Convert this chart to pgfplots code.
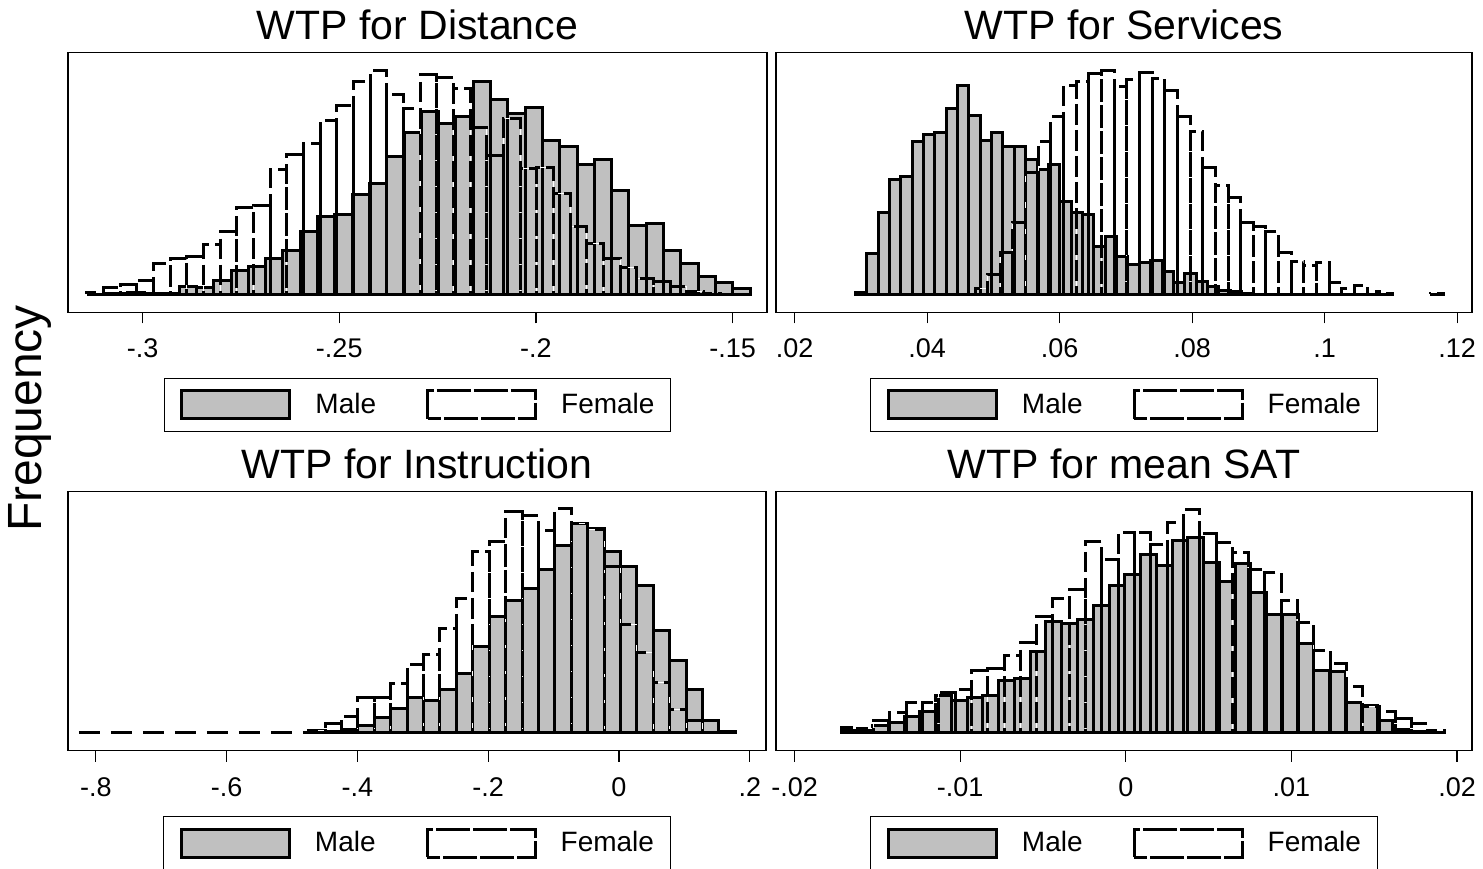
\documentclass[border=0pt]{standalone}
\usepackage{fontspec}
\setmainfont{Liberation Sans}
\usepackage{pgfplots}
\pgfplotsset{compat=1.18}
\definecolor{barfill}{RGB}{192,192,192}

\pgfplotsset{
  swatch/.style={legend image code/.code={\draw[##1] (0pt,-7pt) rectangle (54pt,7pt);}},
  fswatch/.style={legend image code/.code={\draw[##1, dash pattern=on 17pt off 1.5pt] (0pt,-7pt) rectangle (54pt,7pt);}},
  malebar/.style={ybar interval, fill=barfill, draw=black, line width=1.5pt, swatch},
  femaleline/.style={draw=black, line width=1.5pt, dash pattern=on 10pt off 3pt},
  femalebar/.style={ybar interval, fill=none, femaleline,
    preaction={draw=white, line width=0.5pt, solid}, fswatch},
  wtp/.style={
    scale only axis, anchor=south west,
    ymin=-18, ymax=241,
    ytick=\empty,
    xtick pos=left, tick align=outside,
    scaled x ticks=false,
    major tick length=5.5pt,
    tick style={black, line width=0.6pt},
    axis line style={line width=0.6pt},
    xticklabel style={font=\fontsize{13.5}{16}\selectfont, anchor=base, yshift=-17.2pt},
    title style={font=\fontsize{20.5}{24}\selectfont, at={(0.5,1)}, anchor=south,
      inner sep=0pt, yshift=0.35pt},
    legend columns=2,
    legend cell align=left,
    legend style={at={(0.5,0)}, anchor=north, yshift=-32.7pt, draw=black, line width=0.5pt,
      inner xsep=8pt, inner ysep=5.5pt, font=\fontsize{14}{16}\selectfont,
      nodes={inner sep=0pt},
      /tikz/every odd column/.append style={column sep=12pt},
      /tikz/every even column/.append style={column sep=25pt}},
  },
}

\begin{document}
\begin{tikzpicture}
\useasboundingbox (0,0) rectangle (741.5pt,434pt);

% Distance
\begin{axis}[wtp, at={(34pt,277.85pt)}, width=349.5pt, height=129.8pt,
  title={WTP for Distance},
  xmin=-.31897, xmax=-.14124,
  xtick={-.3,-.25,-.2,-.15}, xticklabels={-.3,-.25,-.2,-.15}]
\addplot[malebar] coordinates {
(-.31271,1) (-.30831,1) (-.30391,2) (-.29951,1) (-.29512,1) (-.29072,8) (-.28632,7)
(-.28192,14) (-.27752,24) (-.27312,28) (-.26872,36) (-.26432,44) (-.25993,63) (-.25553,78)
(-.25113,80) (-.24673,100) (-.24233,110) (-.23793,137) (-.23353,161) (-.22913,182)
(-.22474,170) (-.22034,177) (-.21594,212) (-.21154,194) (-.20714,180) (-.20274,186)
(-.19834,153) (-.19394,147) (-.18955,129) (-.18515,134) (-.18075,104) (-.17635,69)
(-.17195,71) (-.16755,44) (-.16315,31) (-.15875,18) (-.15436,12) (-.14996,6) (-.14556,0)};
\addlegendentry{Male}
\addplot[femalebar] coordinates {
(-.31421,2) (-.30997,7) (-.30574,10) (-.30150,14) (-.29726,31) (-.29302,36) (-.28878,38)
(-.28455,50) (-.28031,63) (-.27607,87) (-.27183,89) (-.26759,124) (-.26336,139)
(-.25912,150) (-.25488,173) (-.25064,188) (-.24640,212) (-.24217,223) (-.23793,199)
(-.23369,185) (-.22945,219) (-.22521,216) (-.22098,205) (-.21674,166) (-.21250,138)
(-.20826,175) (-.20402,125) (-.19979,126) (-.19555,101) (-.19131,68) (-.18707,51)
(-.18283,36) (-.17860,27) (-.17436,16) (-.17012,13) (-.16588,8) (-.16164,3) (-.15741,1)
(-.15317,0)};
\addlegendentry{Female}
\end{axis}

% Services
\begin{axis}[wtp, at={(388pt,277.85pt)}, width=348pt, height=129.8pt,
  title={WTP for Services},
  xmin=.017192, xmax=.12225,
  xtick={.02,.04,.06,.08,.1,.12}, xticklabels={.02,.04,.06,.08,.1,.12}]
\addplot[malebar] coordinates {
(.02916,2) (.03088,41) (.03259,82) (.03431,114) (.03602,117) (.03774,152) (.03945,159)
(.04116,161) (.04288,185) (.04459,208) (.04631,178) (.04802,153) (.04974,161) (.05145,147)
(.05317,147) (.05488,134) (.05660,124) (.05831,129) (.06003,93) (.06174,82) (.06346,80)
(.06517,48) (.06689,58) (.06860,38) (.07032,30) (.07203,32) (.07375,34) (.07546,23)
(.07717,12) (.07889,21) (.08060,13) (.08232,8) (.08403,4) (.08575,3) (.08746,1) (.08918,0)};
\addlegendentry{Male}
\addplot[femalebar] coordinates {
(.04723,6) (.04914,20) (.05105,42) (.05296,72) (.05487,121) (.05678,152) (.05869,177)
(.06060,208) (.06251,212) (.06442,220) (.06632,223) (.06823,207) (.07014,214) (.07205,221)
(.07396,215) (.07587,203) (.07778,177) (.07969,162) (.08160,126) (.08351,109) (.08542,97)
(.08733,72) (.08924,68) (.09115,63) (.09306,42) (.09497,33) (.09687,29) (.09878,32)
(.10069,12) (.10260,6) (.10451,9) (.10642,3) (.10833,1) (.11024,0)};
\addlegendentry{Female}
\addplot[femalebar, forget plot] coordinates {(.11597,1) (.11788,0)};
\end{axis}

% Instruction
\begin{axis}[wtp, at={(34pt,58.65pt)}, width=349pt, height=129.5pt,
  title={WTP for Instruction},
  xmin=-.8425, xmax=.22477,
  xtick={-.8,-.6,-.4,-.2,0,.2}, xticklabels={-.8,-.6,-.4,-.2,0,.2}]
\addplot[malebar] coordinates {
(-.47447,2) (-.44938,1) (-.42429,3) (-.39920,7) (-.37410,15) (-.34901,24) (-.32392,35)
(-.29883,32) (-.27374,43) (-.24864,59) (-.22355,86) (-.19846,116) (-.17337,132)
(-.14828,144) (-.12318,163) (-.09809,187) (-.07300,209) (-.04791,204) (-.02282,181)
(.00228,166) (.02737,147) (.05246,102) (.07755,72) (.10264,43) (.12774,12) (.15283,1)
(.17792,0)};
\addlegendentry{Male}
\addplot[femalebar] coordinates {
(-.47447,2) (-.44938,9) (-.42429,16) (-.39920,35) (-.37410,35) (-.34901,49) (-.32392,68)
(-.29883,78) (-.27374,104) (-.24864,134) (-.22355,181) (-.19846,191) (-.17337,221)
(-.14828,217) (-.12318,202) (-.09809,224) (-.07300,209) (-.04791,203) (-.02282,166)
(.00228,108) (.02737,80) (.05246,50) (.07755,23) (.10264,12) (.12774,0.5) (.15283,0)};
\addlegendentry{Female}
% empty female bins in the long left tail, drawn as one dashed run on the baseline
\addplot[femaleline, dash pattern=on 10.5pt off 5.5pt, sharp plot, forget plot] coordinates {
(-.82576,0) (-.80067,0) (-.77558,0) (-.75048,0) (-.72539,0) (-.70030,0) (-.67521,0)
(-.65012,0) (-.62502,0) (-.59993,0) (-.57484,0) (-.54975,0) (-.52466,0) (-.49956,0)
(-.47447,0)};
\end{axis}

% mean SAT
\begin{axis}[wtp, at={(388pt,58.65pt)}, width=348pt, height=129.5pt,
  title={WTP for mean SAT},
  xmin=-.021123, xmax=.020906,
  xtick={-.02,-.01,0,.01,.02}, xticklabels={-.02,-.01,0,.01,.02}]
\addplot[malebar] coordinates {
(-.01719,2) (-.01624,2) (-.01529,7) (-.01434,10) (-.01338,16) (-.01243,21) (-.01148,37)
(-.01053,32) (-.00958,35) (-.00863,37) (-.00768,52) (-.00672,54) (-.00577,81) (-.00482,111)
(-.00387,109) (-.00292,113) (-.00196,127) (-.00101,147) (-.00006,158) (.00089,178)
(.00184,167) (.00279,192) (.00374,195) (.00470,170) (.00565,151) (.00660,169) (.00755,140)
(.00850,118) (.00946,118) (.01041,89) (.01136,62) (.01231,61) (.01326,30) (.01421,27)
(.01517,12) (.01612,3) (.01707,1) (.01802,0)};
\addlegendentry{Male}
\addplot[femalebar] coordinates {
(-.01719,5) (-.01621,4) (-.01522,12) (-.01424,20) (-.01325,30) (-.01227,30) (-.01129,40)
(-.01030,43) (-.00932,62) (-.00833,64) (-.00735,77) (-.00637,90) (-.00538,116) (-.00440,134)
(-.00341,143) (-.00243,191) (-.00144,173) (-.00046,200) (.00053,200) (.00151,188)
(.00249,210) (.00348,223) (.00446,199) (.00545,190) (.00643,180) (.00742,163) (.00840,160)
(.00938,132) (.01037,110) (.01135,82) (.01234,69) (.01332,46) (.01431,26) (.01529,21)
(.01627,14) (.01726,9) (.01824,2) (.01923,0)};
\addlegendentry{Female}
\end{axis}

\node[rotate=90, font=\fontsize{24}{28}\selectfont] at (15pt,224.75pt) {Frequency};
\end{tikzpicture}
\end{document}
